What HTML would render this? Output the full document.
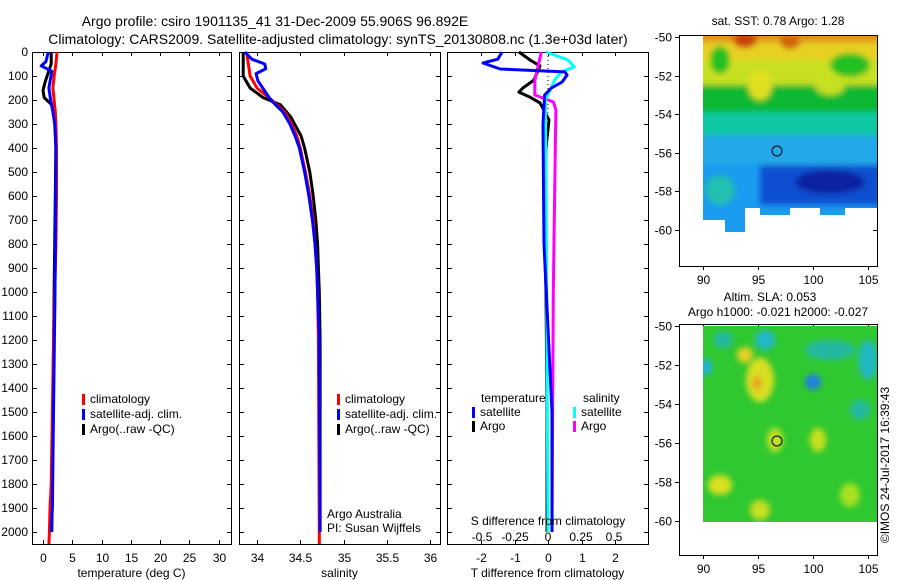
<!DOCTYPE html>
<html><head><meta charset="utf-8"><style>
body{margin:0;background:#fff;}
svg{display:block;font-family:"Liberation Sans",sans-serif;font-size:12px;}
</style></head><body>
<svg id="c" width="900" height="580" viewBox="0 0 900 580">
<defs>
<filter id="bl" x="-20%" y="-20%" width="140%" height="140%"><feGaussianBlur stdDeviation="3"/></filter>
<clipPath id="m1"><path d="M703,36 H877 V208 H845 V215 H820 V208 H790 V215 H760 V208 H745 V232 H725 V220 H703 Z"/></clipPath>
<clipPath id="m2"><rect x="703" y="326" width="174" height="196"/></clipPath>
</defs>
<text x="275" y="26" text-anchor="middle" font-size="14">Argo profile: csiro 1901135_41 31-Dec-2009 55.906S 96.892E</text>
<text x="338" y="44" text-anchor="middle" font-size="14">Climatology: CARS2009. Satellite-adjusted climatology: synTS_20130808.nc (1.3e+03d later)</text>
<g id="plots"></g>
<!-- map 1 -->
<g>
<text x="778" y="25" text-anchor="middle">sat. SST: 0.78 Argo: 1.28</text>
<g clip-path="url(#m1)">
<rect x="703" y="36" width="174" height="200" fill="#1a9cf0"/>
<g filter="url(#bl)">
<rect x="695" y="30" width="190" height="40" fill="#e8d020"/>
<rect x="695" y="28" width="190" height="14" fill="#e0901a"/>
<ellipse cx="745" cy="40" rx="12" ry="8" fill="#c84010"/>
<ellipse cx="790" cy="42" rx="10" ry="7" fill="#d06010"/>
<rect x="695" y="60" width="190" height="30" fill="#c8e020"/>
<ellipse cx="720" cy="60" rx="10" ry="14" fill="#20c020"/>
<ellipse cx="850" cy="65" rx="20" ry="12" fill="#20c020"/>
<rect x="695" y="85" width="190" height="30" fill="#10b830"/>
<ellipse cx="760" cy="85" rx="12" ry="15" fill="#e0e020"/>
<ellipse cx="830" cy="85" rx="15" ry="10" fill="#c8e020"/>
<rect x="695" y="112" width="190" height="24" fill="#10c8a0"/>
<rect x="695" y="135" width="190" height="30" fill="#20a8e8"/>
<rect x="760" y="165" width="120" height="40" fill="#1050d0"/>
<ellipse cx="830" cy="182" rx="35" ry="12" fill="#0820a0"/>
<ellipse cx="720" cy="190" rx="15" ry="15" fill="#20c0b0"/>
</g></g>
<circle cx="777" cy="151" r="5" fill="none" stroke="#000"/>
<rect x="679.5" y="35.5" width="198" height="231" fill="none" stroke="#000"/>
</g>
<!-- map 2 -->
<g>
<text x="770" y="301" text-anchor="middle">Altim. SLA: 0.053</text>
<text x="778" y="316" text-anchor="middle">Argo h1000: -0.021 h2000: -0.027</text>
<g clip-path="url(#m2)">
<rect x="703" y="326" width="174" height="196" fill="#30c830"/>
<g filter="url(#bl)">
<ellipse cx="723" cy="340" rx="10" ry="8" fill="#20b8a0"/>
<ellipse cx="765" cy="340" rx="10" ry="10" fill="#20b8c8"/>
<ellipse cx="745" cy="355" rx="8" ry="8" fill="#e8d020"/>
<ellipse cx="760" cy="380" rx="14" ry="22" fill="#d8e020"/>
<ellipse cx="757" cy="383" rx="5" ry="7" fill="#e8a020"/>
<ellipse cx="813" cy="382" rx="8" ry="8" fill="#2080e0"/>
<ellipse cx="706" cy="367" rx="6" ry="8" fill="#20b0e0"/>
<ellipse cx="830" cy="350" rx="25" ry="10" fill="#20b8a0"/>
<ellipse cx="868" cy="360" rx="10" ry="20" fill="#20b8c0"/>
<ellipse cx="818" cy="440" rx="8" ry="12" fill="#c8e020"/>
<ellipse cx="720" cy="485" rx="12" ry="10" fill="#d8e020"/>
<ellipse cx="760" cy="510" rx="10" ry="10" fill="#c8e020"/>
<ellipse cx="775" cy="440" rx="8" ry="12" fill="#c0e020"/>
<ellipse cx="850" cy="495" rx="10" ry="12" fill="#a8e020"/>
<ellipse cx="860" cy="410" rx="10" ry="10" fill="#20b8a0"/>
</g></g>
<circle cx="777" cy="441" r="5" fill="none" stroke="#000"/>
<rect x="679.5" y="324.5" width="198" height="231" fill="none" stroke="#000"/>
</g>
<text transform="translate(889,465) rotate(-90)" text-anchor="middle">©IMOS 24-Jul-2017 16:39:43</text>
</svg>
<script>
// ---- data ----
const depthTicks=[0,100,200,300,400,500,600,700,800,900,1000,1100,1200,1300,1400,1500,1600,1700,1800,1900,2000];
const tempTicks=[0,5,10,15,20,25,30];
const salTicks=[34,34.5,35,35.5,36];
const tdiffTicks=[-2,-1,0,1,2];
const sdiffTicks=[-0.5,-0.25,0,0.25,0.5];
const tClimDepth=[0,50,100,150,200,250,300,400,600,800,1000,1200,1500,1800,1900,2000,2050];
const tClim=[2.4,2.2,1.9,1.7,1.9,2.1,2.2,2.3,2.3,2.2,2.0,1.8,1.6,1.4,1.2,1.1,1.0];
const tSatDepth=[0,40,58,80,110,150,200,250,300,400,1000,1500,1900,2000];
const tSat=[0.9,0.5,-0.3,1.5,1.3,1.0,1.3,1.7,2.0,2.2,2.05,1.8,1.6,1.4];
const tArgoDepth=[0,50,100,130,160,190,220,250,400,1000,1500,2000];
const tArgo=[1.4,1.4,0.7,0.3,0,0.2,1.5,2.0,2.2,1.9,1.7,1.5];
const sClimDepth=[0,100,150,200,250,300,350,400,450,500,600,700,800,900,1000,1200,2000,2050];
const sClim=[33.88,33.92,34.0,34.17,34.32,34.40,34.46,34.5,34.53,34.56,34.61,34.65,34.67,34.69,34.70,34.71,34.72,34.72];
const sSatDepth=[0,30,50,70,90,120,200,250,300,350,400,450,500,600,700,800,900,1000,1200,2000];
const sSat=[33.86,33.94,34.09,34.1,33.99,34.01,34.16,34.3,34.38,34.44,34.49,34.52,34.55,34.60,34.64,34.67,34.69,34.70,34.72,34.73];
const sArgoDepth=[0,100,150,190,220,270,350,400,500,600,700,800,900,1000,1200,2000];
const sArgo=[33.84,33.84,33.92,34.07,34.27,34.39,34.51,34.55,34.61,34.65,34.68,34.70,34.71,34.72,34.73,34.73];
const dtSatDepth=[0,30,46,71,83,96,125,150,179,300,800,1500,2000];
const dtSat=[-1.37,-1.5,-1.94,-1.43,0.5,0.57,0.42,0.1,-0.1,-0.15,-0.12,0.12,0.12];
const dtArgoDepth=[0,33,58,117,150,167,188,212,283,400,700,1000,1500,2000];
const dtArgo=[-0.87,-0.54,-0.24,-0.42,-0.75,-0.87,-0.54,-0.24,0.03,-0.06,-0.12,-0.06,-0.03,-0.03];
const dsSatDepth=[0,33,62,83,117,200,300,500,1000,2000];
const dsSat=[-0.015,0.15,0.2,0.1,0.05,-0.02,-0.02,-0.015,-0.01,0];
const dsArgoDepth=[0,117,179,208,241,400,1000,2000];
const dsArgo=[-0.05,-0.1,-0.1,0.04,0.06,0.055,0.04,0.03];

const NS='http://www.w3.org/2000/svg';
const root=document.getElementById('plots');
const yD=d=>52+d*0.24;
function mk(tag,at,parent){const e=document.createElementNS(NS,tag);for(const k in at)e.setAttribute(k,at[k]);(parent||root).appendChild(e);return e;}
function line(x1,y1,x2,y2,p){return mk('line',{x1,y1,x2,y2,stroke:'#000','stroke-width':1},p);}
function txt(x,y,s,anchor,p){const t=mk('text',{x,y,'text-anchor':anchor||'middle'},p);t.textContent=s;return t;}

function panel(name,L,R,xf,ticks,xlabel,tickFmt){
  const g=mk('g',{});
  
  
  mk('rect',{x:L+0.5,y:52.5,width:R-L,height:492,fill:'none',stroke:'#000'},g);
  ticks.forEach(v=>{const x=Math.round(xf(v))+0.5;line(x,52,x,56,g);line(x,544,x,540,g);
    if(tickFmt){const t=txt(x,562,tickFmt(v),'middle',g);}});
  depthTicks.forEach(d=>{const y=Math.round(yD(d))+0.5;line(L,y,L+5,y,g);line(R-4,y,R,y,g);});
  if(xlabel){const t=txt((L+R)/2,577,xlabel,'middle',g);}
  return g;
}
function series(g,name,depths,vals,xf,color,w){
  const pts=depths.map((d,i)=>xf(vals[i]).toFixed(1)+','+yD(d).toFixed(1)).join(' ');
  const p=mk('polyline',{points:pts,fill:'none',stroke:color,'stroke-width':w||3,'stroke-linejoin':'round'},g);
  
  
}
function legend(g,x,y,color,label){
  mk('rect',{x:x,y:y-9,width:3,height:11,fill:color},g);
  const t=txt(x+8,y,label,'start',g);
  
  
}
depthTicks.forEach(d=>{const t=txt(28,yD(d)+4,String(d),'end');});

const xT=v=>43+5.85*v;
const g1=panel('temperature-panel',32,231,xT,tempTicks,'temperature (deg C)',v=>String(v));
series(g1,'temp-argo',tArgoDepth,tArgo,xT,'#000');
series(g1,'temp-climatology',tClimDepth,tClim,xT,'#f00');
series(g1,'temp-satellite-adj',tSatDepth,tSat,xT,'#00f');
legend(g1,82,403,'#f00','climatology');legend(g1,82,418,'#00f','satellite-adj. clim.');legend(g1,82,433,'#000','Argo(..raw -QC)');

const xS=v=>257+86.5*(v-34);
const g2=panel('salinity-panel',239,440,xS,salTicks,'salinity',v=>String(v));
series(g2,'sal-argo',sArgoDepth,sArgo,xS,'#000');
series(g2,'sal-climatology',sClimDepth,sClim,xS,'#f00');
series(g2,'sal-satellite-adj',sSatDepth,sSat,xS,'#00f');
legend(g2,337,403,'#f00','climatology');legend(g2,337,418,'#00f','satellite-adj. clim.');legend(g2,337,433,'#000','Argo(..raw -QC)');
txt(327,518,'Argo Australia','start',g2);txt(327,532,'PI: Susan Wijffels','start',g2);

const xDT=v=>548+33.5*v;
const xDS=v=>548+132*v;
const g3=panel('difference-panel',447,648,xDT,tdiffTicks,'T difference from climatology',v=>String(v));
mk('line',{x1:548,y1:52,x2:548,y2:yD(260),stroke:'#000','stroke-dasharray':'1,3'},g3);
series(g3,'tdiff-argo',dtArgoDepth,dtArgo,xDT,'#000');
series(g3,'sdiff-argo',dsArgoDepth,dsArgo,xDS,'#f0f');
series(g3,'sdiff-satellite',dsSatDepth,dsSat,xDS,'#0ff');
series(g3,'tdiff-satellite',dtSatDepth,dtSat,xDT,'#00f');
sdiffTicks.forEach(v=>{const t=txt(xDS(v),541,String(v),'middle',g3);});
txt(548,525,'S difference from climatology','middle',g3);
txt(481,402,'temperature','start',g3);txt(583,402,'salinity','start',g3);
legend(g3,472,416,'#00f','satellite');legend(g3,472,430,'#000','Argo');
legend(g3,573,416,'#0ff','satellite');legend(g3,573,430,'#f0f','Argo');

const mx=v=>703+11*(v-90);
const lonTicks=[90,95,100,105];
const latTicks=[-50,-52,-54,-56,-58,-60];
[[37,19.3,266],[326,19.5,555]].forEach(([y0,s,yb],k)=>{
  const g=mk('g',{});
  
  
  latTicks.forEach(v=>{const y=Math.round(y0+s*(-50-v))+0.5;line(675,y,680,y,g);line(873,y,878,y,g);const t=txt(672,y+4,String(v),'end',g);});
  lonTicks.forEach(v=>{const x=Math.round(mx(v))+0.5;line(x,yb,x,yb+4,g);line(x,yb-231,x,yb-227,g);const t=txt(x,yb+18,String(v),'middle',g);});
});
</script>
</body></html>
